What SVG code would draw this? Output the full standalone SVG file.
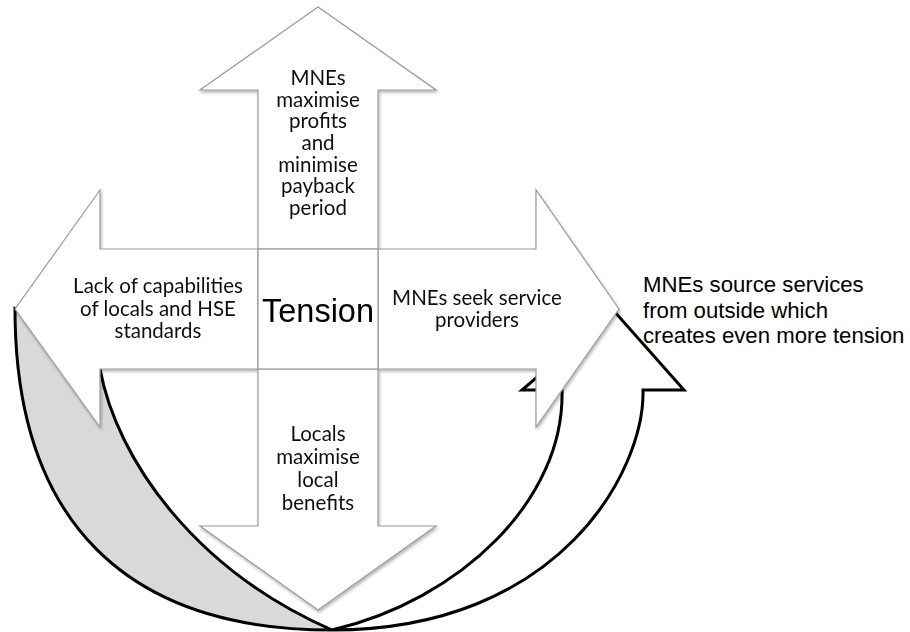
<svg xmlns="http://www.w3.org/2000/svg" width="910" height="632" viewBox="0 0 910 632">
  <defs>
    <filter id="shadow" x="-10%" y="-10%" width="120%" height="120%">
      <feDropShadow dx="1" dy="2" stdDeviation="1.6" flood-color="#000" flood-opacity="0.3"/>
    </filter>
    <style>
      .band { stroke: #000; stroke-width: 3; stroke-linejoin: miter; }
      .block { fill: #fff; stroke: #9a9a9a; stroke-width: 1.2; }
      .lbl { font-family: Lato, "Open Sans", sans-serif; font-size: 20.5px; fill: #111; text-anchor: middle; }
      .core { font-family: "Liberation Sans", Arial, sans-serif; font-size: 32.5px; fill: #000; text-anchor: middle; }
      .note { font-family: "Liberation Sans", Arial, sans-serif; font-size: 22.2px; fill: #000; }
    </style>
  </defs>

  <rect width="910" height="632" fill="#fff"/>

  <!-- curved return arrow running under the cross -->
  <g id="curved-arrow">
    <path class="band" fill="#d9d9d9" d="M15,309 C15,520 125,630 332,630 C195,570 117,460 100,369 Z"/>
    <path class="band" fill="#fff" d="M332,630 C560,630 645,470 643,390 L684,390 L614,311 L522,390 L562,390 C565,500 460,600 332,630 Z"/>
  </g>

  <!-- four arrows around the central box -->
  <g id="arrows" filter="url(#shadow)">
    <g id="arrow-up">
      <polygon class="block" points="258,249 258,90 200,90 318,7 436,90 378,90 378,249"/>
      <text class="lbl"><tspan x="318" y="85">MNEs</tspan><tspan x="318" y="106.7">maximise</tspan><tspan x="318" y="128.4">profits</tspan><tspan x="318" y="150">and</tspan><tspan x="318" y="171.7">minimise</tspan><tspan x="318" y="193.4">payback</tspan><tspan x="318" y="215">period</tspan></text>
    </g>
    <g id="arrow-down">
      <polygon class="block" points="258,369 258,526 200,526 318,610 436,526 378,526 378,369"/>
      <text class="lbl"><tspan x="318" y="441">Locals</tspan><tspan x="318" y="464">maximise</tspan><tspan x="318" y="487">local</tspan><tspan x="318" y="510">benefits</tspan></text>
    </g>
    <g id="arrow-left">
      <polygon class="block" points="258,249 100,249 100,190 15,309 100,427 100,369 258,369"/>
      <text class="lbl"><tspan x="158" y="293">Lack of capabilities</tspan><tspan x="158" y="315.5">of locals and HSE</tspan><tspan x="158" y="338">standards</tspan></text>
    </g>
    <g id="arrow-right">
      <polygon class="block" points="378,249 536,249 536,190 619,309 536,427 536,369 378,369"/>
      <text class="lbl"><tspan x="477" y="305">MNEs seek service</tspan><tspan x="477" y="327">providers</tspan></text>
    </g>
    <g id="tension">
      <rect class="block" x="258" y="249" width="120" height="120"/>
      <text class="core" x="318" y="322">Tension</text>
    </g>
  </g>

  <g id="note">
    <text class="note"><tspan x="643" y="292">MNEs source services</tspan><tspan x="643" y="318">from outside which</tspan><tspan x="643" y="343">creates even more tension</tspan></text>
  </g>
</svg>
